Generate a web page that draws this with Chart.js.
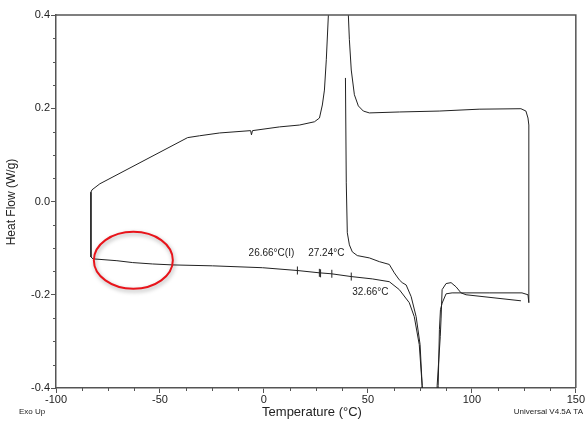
<!DOCTYPE html>
<html>
<head>
<meta charset="utf-8">
<script src="https://cdn.jsdelivr.net/npm/chart.js@4/dist/chart.umd.min.js"></script>
<style>
  html, body { margin: 0; padding: 0; background: #fff; }
  #wrap { width: 585px; height: 423px; }
</style>
</head>
<body>
<div id="wrap"><canvas id="dscChart" width="585" height="423"></canvas></div>
<script>
// ===== Data (temperature °C, heat flow W/g) =====
// cooling from 127 °C along the top, isothermal at -83 °C, heating back along the bottom
const loopCurve = [
  [127.4, -0.217], [127.4, 0.164], [127.0, 0.179], [126.0, 0.194], [123.6, 0.199],
  [103.5, 0.198], [84.3, 0.194], [65.1, 0.192], [50.7, 0.190], [47.8, 0.194],
  [45.4, 0.205], [43.5, 0.229], [42.0, 0.282], [41.1, 0.347], [40.6, 0.40],
  [39.5, 0.55], [33.5, 0.55], [31.0, 0.40], [30.0, 0.304], [29.1, 0.239],
  [28.1, 0.207], [26.7, 0.179], [24.3, 0.171], [17.1, 0.164], [7.5, 0.160],
  [-5.5, 0.152], [-6.0, 0.143], [-6.4, 0.152], [-21.3, 0.147], [-30.9, 0.141],
  [-36.7, 0.137], [-78.9, 0.038], [-82.7, 0.025], [-83.2, 0.020], [-83.2, -0.119],
  [-82.2, -0.123], [-70.7, -0.127], [-63.1, -0.131], [-53.5, -0.134], [-43.9, -0.136],
  [-24.7, -0.138], [-0.7, -0.142], [16.1, -0.148], [26.7, -0.153], [32.4, -0.155],
  [42.0, -0.161], [52.1, -0.166], [60.3, -0.172], [65.1, -0.189], [69.9, -0.217],
  [72.3, -0.247], [74.7, -0.307], [76.1, -0.395], [76.8, -0.55], [83.2, -0.55],
  [83.8, -0.395], [84.4, -0.275], [84.9, -0.232], [85.7, -0.218], [87.6, -0.198],
  [90.5, -0.196], [97.2, -0.196], [108.3, -0.196], [124.1, -0.196], [127.0, -0.200],
  [127.4, -0.217]
];
// second heating run starting at 39 °C
const secondRun = [
  [39.2, 0.265], [39.6, 0.040], [40.1, -0.067], [41.1, -0.093], [42.5, -0.108],
  [44.9, -0.116], [50.7, -0.121], [55.5, -0.129], [60.3, -0.135], [62.7, -0.153],
  [65.1, -0.168], [66.5, -0.174], [68.4, -0.179], [70.8, -0.204], [73.2, -0.247],
  [75.1, -0.307], [76.1, -0.395], [76.6, -0.55], [83.0, -0.55], [83.3, -0.395],
  [84.8, -0.290], [85.2, -0.250], [85.7, -0.189], [87.6, -0.176], [90.0, -0.174],
  [92.4, -0.183], [94.8, -0.196], [97.2, -0.200], [123.6, -0.213]
];
// glass transition analysis markers
const markerTemps = [16.1, 26.66, 27.24, 32.66, 42.0];
const markerFlows = [-0.148, -0.153, -0.154, -0.155, -0.161];
const noteTexts = ["26.66°C(I)", "27.24°C", "32.66°C"];
const noteTemps = [3.6, 30.0, 51.2];
const noteFlows = [-0.110, -0.110, -0.194];
// axes
const xTicks = [-100, -50, 0, 50, 100, 150];
const yTicks = [-0.4, -0.2, 0.0, 0.2, 0.4];
const circledAt = [-62.8, -0.126];

const FONT = "'Liberation Sans', Arial, sans-serif";
const INK = "#222";
const AXIS = "#555";

const toXY = arr => arr.map(p => ({ x: p[0], y: p[1] }));

// ===== Extras: frame, minor ticks, notes, texts, red ellipse =====
const extras = {
  id: "extras",
  afterDraw(chart) {
    const { ctx, chartArea: a, scales: { x, y } } = chart;
    ctx.save();

    // top and right frame
    ctx.strokeStyle = AXIS;
    ctx.lineWidth = 1.5;
    ctx.beginPath();
    ctx.moveTo(a.left, a.top);
    ctx.lineTo(a.right, a.top);
    ctx.lineTo(a.right, a.bottom);
    ctx.stroke();

    // minor ticks
    ctx.lineWidth = 1;
    ctx.beginPath();
    for (let v = -100; v <= 150; v += 12.5) {
      if (v % 50 === 0) continue;
      const px = Math.round(x.getPixelForValue(v)) + 0.5;
      ctx.moveTo(px, a.bottom);
      ctx.lineTo(px, a.bottom + 3);
    }
    for (let i = -8; i <= 8; i++) {
      if (i % 4 === 0) continue;
      const py = Math.round(y.getPixelForValue(i * 0.05)) + 0.5;
      ctx.moveTo(a.left, py);
      ctx.lineTo(a.left - 3, py);
    }
    ctx.stroke();

    // analysis notes
    ctx.fillStyle = INK;
    ctx.font = "10px " + FONT;
    ctx.textAlign = "center";
    ctx.textBaseline = "middle";
    noteTexts.forEach((t, i) => {
      ctx.fillText(t, x.getPixelForValue(noteTemps[i]), y.getPixelForValue(noteFlows[i]));
    });

    // axis titles and footer
    ctx.font = "13px " + FONT;
    ctx.fillText("Temperature (°C)", 312, 412);
    ctx.save();
    ctx.translate(12, 202);
    ctx.rotate(-Math.PI / 2);
    ctx.font = "12px " + FONT;
    ctx.fillText("Heat Flow (W/g)", 0, 0);
    ctx.restore();
    ctx.font = "8px " + FONT;
    ctx.textAlign = "left";
    ctx.fillText("Exo Up", 19, 412);
    ctx.textAlign = "right";
    ctx.fillText("Universal V4.5A TA", 583, 412);

    // red ellipse
    const cx = x.getPixelForValue(circledAt[0]);
    const cy = y.getPixelForValue(circledAt[1]);
    ctx.shadowColor = "rgba(0,0,0,0.35)";
    ctx.shadowBlur = 4;
    ctx.shadowOffsetX = 1;
    ctx.shadowOffsetY = 2;
    ctx.strokeStyle = "#e8141b";
    ctx.lineWidth = 2;
    ctx.beginPath();
    ctx.ellipse(cx, cy, 39.5, 28.5, 0, 0, Math.PI * 2);
    ctx.stroke();

    ctx.restore();
  }
};

document.addEventListener("DOMContentLoaded", () => {
  const ctx = document.getElementById("dscChart").getContext("2d");
  new Chart(ctx, {
    type: "scatter",
    data: {
      datasets: [
        {
          label: "Cycle",
          data: toXY(loopCurve),
          showLine: true,
          borderColor: INK,
          borderWidth: 1,
          pointRadius: 0,
          tension: 0
        },
        {
          label: "Second heat",
          data: toXY(secondRun),
          showLine: true,
          borderColor: INK,
          borderWidth: 1,
          pointRadius: 0,
          tension: 0
        },
        {
          label: "Markers",
          data: markerTemps.map((t, i) => ({ x: t, y: markerFlows[i] })),
          showLine: false,
          pointStyle: "line",
          rotation: 90,
          pointRadius: 4,
          borderColor: INK,
          borderWidth: 1
        }
      ]
    },
    options: {
      responsive: false,
      animation: false,
      events: [],
      layout: { padding: { top: 15, right: 8, left: 0, bottom: 0 } },
      plugins: { legend: { display: false }, tooltip: { enabled: false } },
      scales: {
        x: {
          type: "linear",
          min: -100,
          max: 150,
          afterBuildTicks: s => { s.ticks = xTicks.map(v => ({ value: v })); },
          afterFit: s => { s.height = 35; },
          grid: { drawOnChartArea: false, tickLength: 5, color: AXIS },
          border: { color: AXIS, width: 1.5 },
          ticks: { color: INK, font: { family: FONT, size: 11 }, padding: 0, maxRotation: 0,
                   callback: v => String(v) }
        },
        y: {
          type: "linear",
          min: -0.4,
          max: 0.4,
          afterBuildTicks: s => { s.ticks = yTicks.map(v => ({ value: v })); },
          afterFit: s => { s.width = 56; },
          grid: { drawOnChartArea: false, tickLength: 5, color: AXIS },
          border: { color: AXIS, width: 1.5 },
          ticks: { color: INK, font: { family: FONT, size: 11 }, padding: 1,
                   callback: v => v.toFixed(1) }
        }
      }
    },
    plugins: [extras]
  });
});
</script>
</body>
</html>
